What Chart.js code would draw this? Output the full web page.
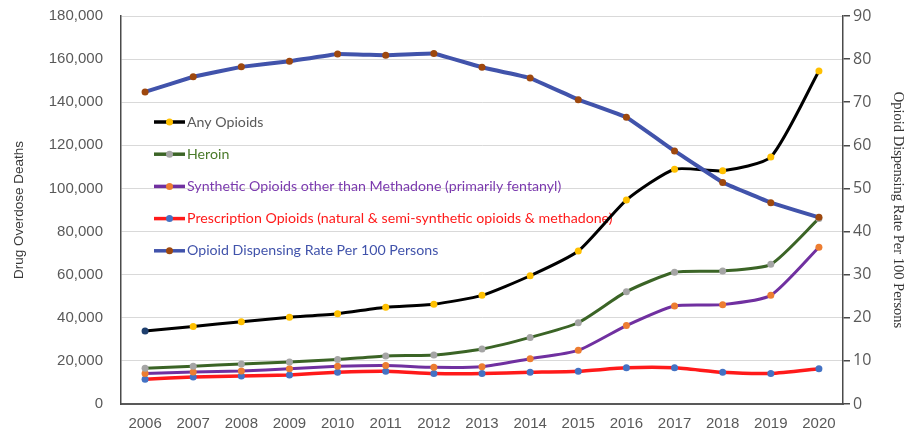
<!DOCTYPE html>
<html>
<head>
<meta charset="utf-8">
<script src="https://cdn.jsdelivr.net/npm/chart.js@4"></script>
<style>
  html, body { margin: 0; padding: 0; background: #fff; }
  #wrap { width: 911px; height: 436px; position: relative; }
</style>
</head>
<body>
<div id="wrap"><canvas id="chart"></canvas></div>
<script>
const years = ["2006", "2007", "2008", "2009", "2010", "2011", "2012", "2013", "2014", "2015", "2016", "2017", "2018", "2019", "2020"];
const anyOpioids = [33900, 36000, 38200, 40200, 41900, 44900, 46300, 50400, 59500, 71000, 94600, 108900, 108200, 114600, 154500];
const heroin = [16600, 17500, 18600, 19500, 20600, 22300, 22700, 25500, 30900, 37700, 52100, 61100, 61700, 64800, 86100];
const synthetic = [14200, 14800, 15300, 16400, 17500, 17900, 17000, 17300, 21000, 24900, 36400, 45500, 46100, 50400, 72700];
const prescription = [11500, 12500, 13000, 13500, 14700, 15200, 14100, 14200, 14700, 15200, 16800, 16800, 14700, 14200, 16400];
const dispensingRate = [72.4, 75.9, 78.2, 79.5, 81.2, 80.9, 81.3, 78.1, 75.6, 70.6, 66.5, 58.7, 51.4, 46.7, 43.3];

const gray = "#595959";

// any opioids: first marker is navy in the original
const anyDots = years.map((y, i) => (i === 0 ? "#1f3f6e" : "#ffc000"));

// legend drawn inside the plot area, under the lines
const insideLegend = {
  id: "insideLegend",
  beforeDatasetsDraw(chart) {
    const ctx = chart.ctx;
    const area = chart.chartArea;
    const x0 = area.left + 33;
    let y = area.top + 106;
    ctx.save();
    ctx.font = "14.2px Lato";
    ctx.textBaseline = "middle";
    chart.data.datasets.forEach((ds) => {
      ctx.strokeStyle = ds.borderColor;
      ctx.lineWidth = 3.5;
      ctx.beginPath();
      ctx.moveTo(x0, y);
      ctx.lineTo(x0 + 31, y);
      ctx.stroke();
      ctx.fillStyle = ds.legendDot;
      ctx.beginPath();
      ctx.arc(x0 + 15.5, y, 3.5, 0, Math.PI * 2);
      ctx.fill();
      ctx.fillStyle = ds.textColor;
      ctx.fillText(ds.label, x0 + 33, y);
      y += 32.2;
    });
    ctx.restore();
  },
};

function fixVertical(width) {
  return (scale) => {
    scale.width = width;
    scale.paddingTop = 0;
    scale.paddingBottom = 0;
  };
}

new Chart(document.getElementById("chart").getContext("2d"), {
  type: "line",
  data: {
    labels: years,
    datasets: [
      {
        label: "Any Opioids",
        data: anyOpioids,
        yAxisID: "y",
        borderColor: "#000000",
        borderWidth: 3,
        pointBackgroundColor: anyDots,
        pointBorderWidth: 0,
        legendDot: "#ffc000",
        textColor: gray,
        tension: 0.2,
        order: 1,
      },
      {
        label: "Heroin",
        data: heroin,
        yAxisID: "y",
        borderColor: "#3b6426",
        borderWidth: 3,
        pointBackgroundColor: "#a5a5a5",
        pointBorderWidth: 0,
        legendDot: "#a5a5a5",
        textColor: "#4a7a2a",
        tension: 0.2,
        order: 2,
      },
      {
        label: "Synthetic Opioids other than Methadone (primarily fentanyl)",
        data: synthetic,
        yAxisID: "y",
        borderColor: "#7030a0",
        borderWidth: 3,
        pointBackgroundColor: "#ed7d31",
        pointBorderWidth: 0,
        legendDot: "#ed7d31",
        textColor: "#7b3aae",
        tension: 0.2,
        order: 3,
      },
      {
        label: "Prescription Opioids (natural & semi-synthetic opioids & methadone)",
        data: prescription,
        yAxisID: "y",
        borderColor: "#ff1a1a",
        borderWidth: 3.5,
        pointBackgroundColor: "#4472c4",
        pointBorderWidth: 0,
        legendDot: "#4472c4",
        textColor: "#ff1a1a",
        tension: 0.2,
        order: 4,
      },
      {
        label: "Opioid Dispensing Rate Per 100 Persons",
        data: dispensingRate,
        yAxisID: "y1",
        borderColor: "#4153ab",
        borderWidth: 4,
        pointBackgroundColor: "#9e480e",
        pointBorderWidth: 0,
        legendDot: "#9e480e",
        textColor: "#4153ab",
        tension: 0.05,
        order: 0,
      },
    ],
  },
  options: {
    responsive: true,
    maintainAspectRatio: false,
    animation: false,
    layout: { padding: { top: 16, left: 0, right: 0, bottom: 0 } },
    elements: {
      point: { radius: 3.5, hoverRadius: 4 },
    },
    scales: {
      x: {
        offset: true,
        afterFit: (scale) => { scale.height = 32; },
        border: { display: true, color: gray, width: 2 },
        grid: { drawOnChartArea: false, drawTicks: false, offset: true },
        ticks: {
          color: gray,
          padding: 11,
          maxRotation: 0,
          font: { family: "'Liberation Sans Narrow', 'Liberation Sans'", size: 15 },
        },
      },
      y: {
        position: "left",
        min: 0,
        max: 180000,
        afterFit: fixVertical(121),
        border: { display: true, color: "#4a4a4a", width: 1.5 },
        grid: { color: "#d9d9d9", lineWidth: 1, drawTicks: false },
        ticks: {
          stepSize: 20000,
          color: gray,
          padding: 18,
          font: { family: "'Liberation Sans'", size: 15 },
          callback: (value) => value.toLocaleString("en-US"),
        },
        title: {
          display: true,
          text: "Drug Overdose Deaths",
          color: "#3a3a3a",
          font: { family: "'Liberation Sans'", size: 13.5 },
          padding: { top: 11, bottom: 0 },
        },
      },
      y1: {
        position: "right",
        min: 0,
        max: 90,
        afterFit: fixVertical(68),
        border: { display: true, color: "#4a4a4a", width: 1.5 },
        grid: { drawOnChartArea: false, drawTicks: true, tickLength: 7, color: "#4a4a4a", lineWidth: 1.5 },
        ticks: {
          stepSize: 10,
          color: gray,
          padding: 3,
          font: { family: "'Open Sans'", size: 16 },
        },
        title: {
          display: true,
          text: "Opioid Dispensing Rate Per 100 Persons",
          color: "#333333",
          font: { family: "'Liberation Serif'", size: 14.5 },
          padding: { top: 4, bottom: 0 },
        },
      },
    },
    plugins: {
      legend: { display: false },
      tooltip: { enabled: false },
    },
  },
  plugins: [insideLegend],
});
</script>
</body>
</html>
